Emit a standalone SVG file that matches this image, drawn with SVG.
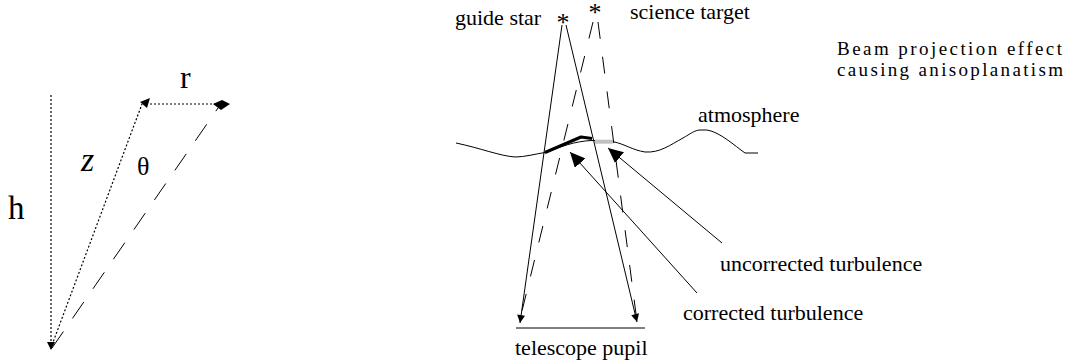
<svg xmlns="http://www.w3.org/2000/svg" width="1067" height="363" viewBox="0 0 1067 363">
<defs>
<style>
.t{font-family:"Liberation Serif","Times New Roman",serif;font-size:22px;fill:#000}
.ti{font-family:"Liberation Serif","Times New Roman",serif;font-size:19px;fill:#000}
.sym{font-family:"Liberation Serif","Times New Roman",serif;fill:#000}
.ln{stroke:#000;stroke-width:1;fill:none}
.dot{stroke:#000;stroke-width:1.2;fill:none;stroke-dasharray:2 2}
.dash{stroke:#000;stroke-width:1;fill:none;stroke-dasharray:20 16}
.dash2{stroke:#000;stroke-width:1;fill:none;stroke-dasharray:17 18}
</style>
<marker id="ah" viewBox="0 0 10 10" refX="10" refY="5" markerWidth="9" markerHeight="8" markerUnits="userSpaceOnUse" orient="auto"><path d="M0,0 L10,5 L0,10z" fill="#000"/></marker>
<marker id="big" viewBox="0 0 15 14" refX="15" refY="7" markerWidth="15" markerHeight="14" markerUnits="userSpaceOnUse" orient="auto"><path d="M0,0 L15,7 L0,14z" fill="#000"/></marker>
</defs>
<rect width="1067" height="363" fill="#fff"/>

<g id="geometry">
<path class="dot" d="M51,95 L51,350" marker-end="url(#ah)"/>
<path class="dot" d="M52,345 L142,104"/>
<path class="dot" d="M146,104 L216,104"/>
<path class="dash" d="M52,348 L218,108"/>
<polygon points="140,102 150,98 147,108" fill="#000"/>
<polygon points="213,104 222,100 230,104 221,110" fill="#000"/>
</g>

<g id="labels-left">
<text class="sym" x="8" y="219" font-size="33">h</text>
<text class="sym" x="180" y="88" font-size="32">r</text>
<text class="sym" x="81" y="171" font-size="34" font-style="italic">z</text>
<text class="sym" x="137" y="175" font-size="26">θ</text>
</g>

<g id="atmosphere">
<path class="ln" d="M456,143 C480,148 500,156 515,157 C525,157 535,154 545,152.5 C560,147 575,141 592,140.5 L613,141.7 C625,144 632,150 645,152 C660,153 670,145 683,138 C690,134 695,130 700,130 L707,130 C720,132 735,146 745,153 L758,153"/>
<path d="M545,152.5 L581,137 L592,138.5" stroke="#000" stroke-width="3" fill="none" stroke-linejoin="round"/>
<path d="M595,141.7 L613,141.7" stroke="#c0c0c0" stroke-width="4" fill="none"/>
<text class="t" x="698" y="122">atmosphere</text>
</g>

<g id="guide-star">
<text class="sym" x="563" y="31" font-size="26" text-anchor="middle">*</text>
<text class="t" x="455" y="25">guide star</text>
</g>

<g id="science-target">
<text class="sym" x="595" y="21" font-size="26" text-anchor="middle">*</text>
<text class="t" x="630" y="19">science target</text>
</g>

<g id="title">
<text class="ti" x="837" y="55" textLength="225" lengthAdjust="spacing">Beam projection effect</text>
<text class="ti" x="837" y="76" textLength="226" lengthAdjust="spacing">causing anisoplanatism</text>
</g>

<g id="telescope-pupil">
<path class="ln" d="M516,328 L645,328"/>
<text class="t" x="515" y="355">telescope pupil</text>
</g>

<g id="uncorrected-turbulence">
<text class="t" x="720" y="271">uncorrected turbulence</text>
</g>

<g id="corrected-turbulence">
<text class="t" x="683" y="320">corrected turbulence</text>
</g>

<g id="connectors">
<path class="ln" d="M562,25 L520,323" marker-end="url(#ah)"/>
<path class="ln" d="M566,25 L637,322" marker-end="url(#ah)"/>
<path class="dash2" d="M593,22 L521,315"/>
<path class="dash2" d="M598,22 L636,314"/>
<path class="ln" d="M722,243 L608,148" marker-end="url(#big)"/>
<path class="ln" d="M697,293 L570,152" marker-end="url(#big)"/>
</g>
</svg>
